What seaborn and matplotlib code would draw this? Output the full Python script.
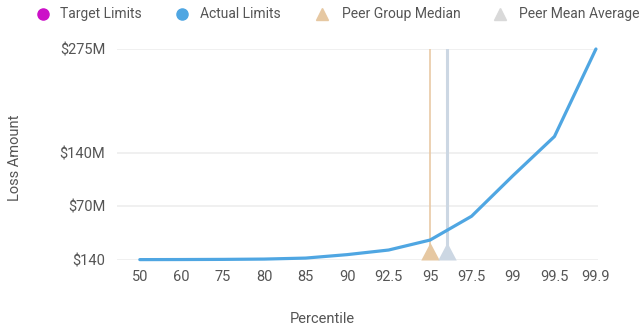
import numpy as np
import pandas as pd
import matplotlib
matplotlib.use("Agg")
import matplotlib.pyplot as plt
import seaborn as sns
from matplotlib.lines import Line2D

# Loss curve by percentile
percentiles = ["50", "60", "75", "80", "85", "90", "92.5", "95", "97.5", "99", "99.5", "99.9"]
actual_limits = [0.5e6, 0.6e6, 0.8e6, 1.2e6, 2.5e6, 7e6, 13e6, 26e6, 57e6, 110e6, 161e6, 275e6]

# Peer markers (percentile values)
peer_group_median = 95.0
peer_mean_average = 96.0

y_ticks = [140, 70e6, 140e6, 275e6]
y_tick_labels = ["$140", "$70M", "$140M", "$275M"]

legend_labels = ["Target Limits", "Actual Limits", "Peer Group Median", "Peer Mean Average"]

sns.set_theme(style="white")
plt.rcParams["font.family"] = ["Roboto", "DejaVu Sans"]

TEXT = "#555555"
BLUE = "#4FA6E2"
TAN = "#E6C8A2"
TAN_LINE = "#E9C9A5"
SLATE = "#CCD7E3"
MAGENTA = "#CC10C8"
LIGHT = "#D9D9D9"

W, H = 643, 328
df = pd.DataFrame({"pos": np.arange(len(percentiles)), "loss": actual_limits})

fig = plt.figure(figsize=(W / 100, H / 100), dpi=100)
ax = fig.add_axes([117 / W, 1 - 260 / H, 481 / W, 211 / H])

for y in y_ticks:
    ax.axhline(y, color="#EEEEEE", lw=1.2, zorder=0)

sns.lineplot(data=df, x="pos", y="loss", ax=ax, color=BLUE, lw=2.3,
             clip_on=False, zorder=3)

# map peer percentiles onto the categorical axis
pct_values = np.array([float(p) for p in percentiles])
med_x = np.interp(peer_group_median, pct_values, df["pos"])
mean_x = np.interp(peer_mean_average, pct_values, df["pos"])

ax.axvline(med_x, color=TAN_LINE, lw=1.2, zorder=2)
ax.axvline(mean_x, color=SLATE, lw=2.2, zorder=2)

tri = [(-1, 0), (1, 0), (0, 1.9), (-1, 0)]
ax.scatter([med_x], [0], marker=tri, s=640, color=TAN, lw=0, zorder=4, clip_on=False)
ax.scatter([mean_x], [0], marker=tri, s=640, color=SLATE, lw=0, zorder=4, clip_on=False)

ax.set_xlim(-0.55, len(percentiles) - 1 + 0.05)
ax.set_ylim(0, 275e6)
ax.set_xticks(df["pos"])
ax.set_xticklabels(percentiles)
ax.set_yticks(y_ticks)
ax.set_yticklabels(y_tick_labels)
ax.tick_params(axis="x", length=0, pad=7, labelsize=10.5, labelcolor=TEXT)
ax.tick_params(axis="y", length=0, pad=8.5, labelsize=10.5, labelcolor=TEXT)
for s in ax.spines.values():
    s.set_visible(False)

ax.set_xlabel("Percentile", fontsize=10.5, color=TEXT, va="center")
ax.xaxis.set_label_coords((322 - 117) / 481, -(319 - 260) / 211)
ax.set_ylabel("Loss Amount", fontsize=10.5, color=TEXT, va="center")
ax.yaxis.set_label_coords(-(117 - 15) / 481, 0.485)

# legend row across the top
legend_marks = [("o", MAGENTA, 8), ("o", BLUE, 8), ("^", TAN, 9), ("^", LIGHT, 9)]
marker_x = [43, 182, 322, 500]
text_x = [60, 200, 342, 519]
ly = 1 - 14 / H
for (mk, col, ms), mx, tx, lab in zip(legend_marks, marker_x, text_x, legend_labels):
    fig.add_artist(Line2D([mx / W], [ly], marker=mk, ms=ms, color=col, ls="",
                          transform=fig.transFigure))
    fig.text(tx / W, ly, lab, fontsize=10, color=TEXT, va="center", ha="left")

fig.savefig("out.png", dpi=100)
